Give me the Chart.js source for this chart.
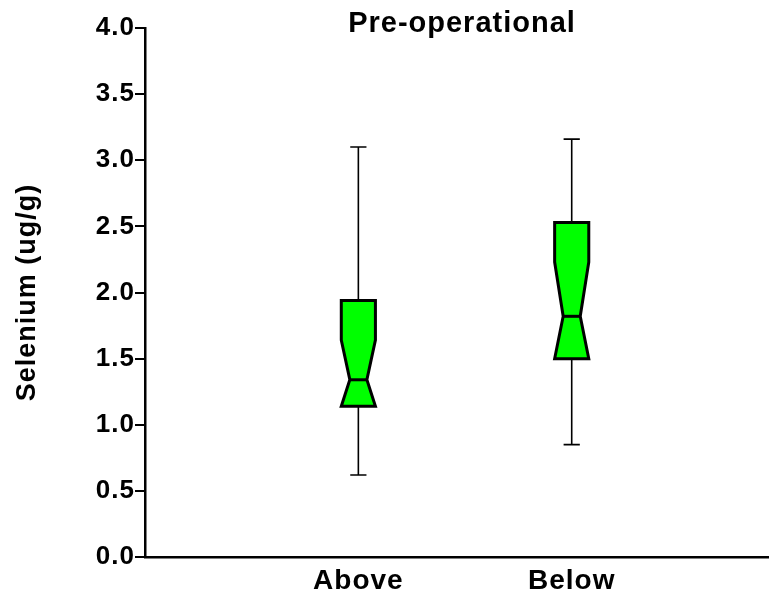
<!DOCTYPE html>
<html>
<head>
<meta charset="utf-8">
<script src="https://cdn.jsdelivr.net/npm/chart.js@4.4.1/dist/chart.umd.min.js"></script>
<style>
  html, body { margin: 0; padding: 0; background: #fff; }
  #wrap { width: 772px; height: 592px; }
</style>
</head>
<body>
<div id="wrap"><canvas id="boxChart"></canvas></div>
<script>
// ── data ──
const categories = ['Above', 'Below'];
const whiskerLow = [0.62, 0.85];
const quart1 = [1.14, 1.50];
const medians = [1.34, 1.82];
const quart3 = [1.94, 2.53];
const whiskerHigh = [3.10, 3.16];
const notchUpper = [1.64, 2.23];
const notchLower = [1.04, 1.42];
const yTicks = [0, 0.5, 1, 1.5, 2, 2.5, 3, 3.5, 4];

const FONT = "'Liberation Sans', Arial, sans-serif";

// the reference text is set a little wider than plain Arial
const wideText = {
    id: 'wideText',
    beforeDraw(chart) { chart.ctx.letterSpacing = '1px'; }
};

// notched boxes, drawn from the arrays through the chart scales
const boxPlot = {
    id: 'boxPlot',
    afterDatasetsDraw(chart) {
        const { ctx, scales: { x, y } } = chart;
        const halfBox = 0.08, halfNotch = 0.04, halfCap = 0.038;
        categories.forEach((_, i) => {
            const c = i + 1;
            const px = v => x.getPixelForValue(v);
            const left = px(c - halfBox), right = px(c + halfBox);
            const nl = px(c - halfNotch), nr = px(c + halfNotch);
            const cx = px(c);
            const yQ3 = y.getPixelForValue(quart3[i]);
            const yQ1 = y.getPixelForValue(quart1[i]);
            const yMed = y.getPixelForValue(medians[i]);
            const yHi = y.getPixelForValue(whiskerHigh[i]);
            const yLo = y.getPixelForValue(whiskerLow[i]);
            const yNu = y.getPixelForValue(Math.min(notchUpper[i], quart3[i]));
            const yNl = y.getPixelForValue(Math.max(notchLower[i], quart1[i]));

            ctx.save();
            // whiskers + caps
            ctx.strokeStyle = '#000';
            ctx.lineWidth = 1.6;
            ctx.beginPath();
            ctx.moveTo(cx, yQ3);
            ctx.lineTo(cx, yHi);
            ctx.moveTo(px(c - halfCap), yHi);
            ctx.lineTo(px(c + halfCap), yHi);
            ctx.moveTo(cx, yQ1);
            ctx.lineTo(cx, yLo);
            ctx.moveTo(px(c - halfCap), yLo);
            ctx.lineTo(px(c + halfCap), yLo);
            ctx.stroke();

            // notched box
            ctx.beginPath();
            ctx.moveTo(left, yQ3);
            ctx.lineTo(right, yQ3);
            ctx.lineTo(right, yNu);
            ctx.lineTo(nr, yMed);
            ctx.lineTo(right, yNl);
            ctx.lineTo(right, yQ1);
            ctx.lineTo(left, yQ1);
            ctx.lineTo(left, yNl);
            ctx.lineTo(nl, yMed);
            ctx.lineTo(left, yNu);
            ctx.closePath();
            ctx.fillStyle = '#00ff00';
            ctx.fill();
            ctx.lineWidth = 3;
            ctx.lineJoin = 'miter';
            ctx.stroke();

            // median
            ctx.beginPath();
            ctx.moveTo(nl, yMed);
            ctx.lineTo(nr, yMed);
            ctx.stroke();
            ctx.restore();
        });
    }
};

// title sits over the plot, as in the reference
const topTitle = {
    id: 'topTitle',
    afterDraw(chart) {
        const { ctx } = chart;
        ctx.save();
        ctx.font = 'bold 29px ' + FONT;
        ctx.fillStyle = '#000';
        ctx.textAlign = 'center';
        ctx.textBaseline = 'alphabetic';
        ctx.fillText('Pre-operational', 462, 32);
        ctx.restore();
    }
};

new Chart(document.getElementById('boxChart'), {
    type: 'scatter',
    data: {
        datasets: [{
            label: 'Median',
            data: medians.map((m, i) => ({ x: i + 1, y: m })),
            pointRadius: 0,
            showLine: false
        }]
    },
    options: {
        responsive: true,
        maintainAspectRatio: false,
        animation: false,
        layout: { padding: { top: 28, right: 4, left: 0, bottom: 0 } },
        plugins: {
            legend: { display: false },
            tooltip: { enabled: false },
            title: { display: false }
        },
        scales: {
            x: {
                type: 'linear',
                min: 0,
                max: 2.92,
                afterBuildTicks: s => { s.ticks = categories.map((_, i) => ({ value: i + 1 })); },
                afterFit: s => { s.height = 35; },
                grid: { display: false, drawTicks: false },
                border: { display: true, color: '#000', width: 2.5 },
                ticks: {
                    color: '#000',
                    padding: 7,
                    maxRotation: 0,
                    font: { family: FONT, size: 28, weight: 'bold' },
                    callback: v => categories[v - 1]
                }
            },
            y: {
                min: 0,
                max: 4,
                afterBuildTicks: s => { s.ticks = yTicks.map(v => ({ value: v })); },
                afterFit: s => { s.width = 145; },
                grid: {
                    display: true,
                    drawOnChartArea: false,
                    drawTicks: true,
                    tickLength: 10,
                    color: '#000',
                    lineWidth: 2
                },
                border: { display: true, color: '#000', width: 2.5 },
                ticks: {
                    color: '#000',
                    padding: 0,
                    font: { family: FONT, size: 26, weight: 'bold' },
                    callback: v => v.toFixed(1)
                },
                title: {
                    display: true,
                    text: 'Selenium (ug/g)',
                    color: '#000',
                    padding: { top: 11, bottom: 0 },
                    font: { family: FONT, size: 27, weight: 'bold' }
                }
            }
        }
    },
    plugins: [wideText, boxPlot, topTitle]
});
</script>
</body>
</html>
